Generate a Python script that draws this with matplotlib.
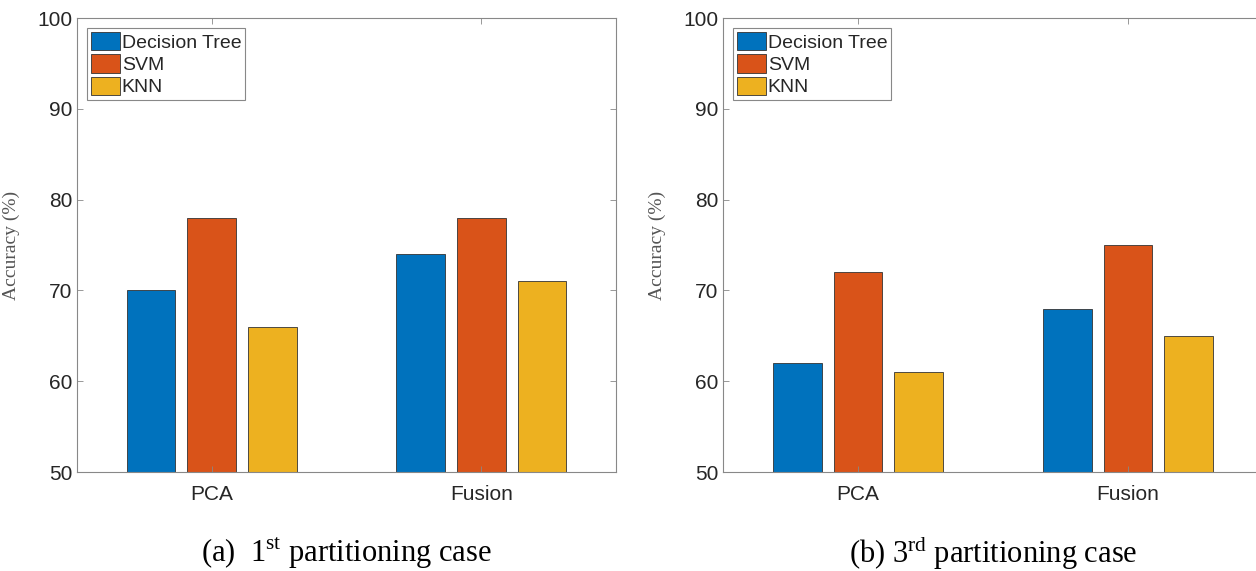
import numpy as np
import matplotlib
matplotlib.use("Agg")
import matplotlib.pyplot as plt
from matplotlib.patches import Patch

# data
groups = ["PCA", "Fusion"]
methods = ["Decision Tree", "SVM", "KNN"]
acc_case1 = [[70, 74], [78, 78], [66, 71]]   # per method, per group
acc_case3 = [[62, 68], [72, 75], [61, 65]]
captions = [r"(a)  1$^{\mathrm{st}}$ partitioning case",
            r"(b) 3$^{\mathrm{rd}}$ partitioning case"]
colors = ["#0072BD", "#D95319", "#EDB120"]

plt.rcParams["font.family"] = "Liberation Sans"
plt.rcParams["mathtext.fontset"] = "custom"
plt.rcParams["mathtext.rm"] = "Liberation Serif"

W, H = 1256, 571
fig = plt.figure(figsize=(W / 100, H / 100), dpi=100)

axes_px = [(77, 539), (723, 540)]   # left edge, width in pixels
top, bottom = 18, 472
x = np.arange(1, len(groups) + 1)
offsets = [-0.225, 0.0, 0.225]
width = 0.18

for k, (data, cap) in enumerate(zip([acc_case1, acc_case3], captions)):
    left, w = axes_px[k]
    ax = fig.add_axes([left / W, (H - bottom) / H, w / W, (bottom - top) / H])
    for i, m in enumerate(methods):
        ax.bar(x + offsets[i], data[i], width, color=colors[i],
               edgecolor="#333333", linewidth=0.6, label=m)
    ax.set_xlim(0.5, 2.5)
    ax.set_ylim(50, 100)
    ax.set_xticks(x)
    ax.set_xticklabels(groups)
    ax.set_yticks(range(50, 101, 10))
    ax.tick_params(direction="in", length=4, width=0.6, color="#888888",
                   top=True, right=True, labelsize=15, labelcolor="#262626")
    ax.tick_params(axis="x", pad=9)
    for s in ax.spines.values():
        s.set_color("#888888")
        s.set_linewidth(0.8)
    ax.set_ylabel("Accuracy (%)", family="Liberation Serif", fontsize=14,
                  color="#555555")
    ax.yaxis.set_label_coords(-0.106, 0.5)
    handles = [Patch(facecolor=c, edgecolor="#333333", linewidth=0.6)
               for c in colors]
    leg = ax.legend(handles, methods, loc="upper left", fontsize=14,
                    fancybox=False, framealpha=1, edgecolor="#888888",
                    handlelength=1.5, handleheight=1.1, handletextpad=0.1,
                    labelspacing=0.13, borderpad=0.2, borderaxespad=0.5)
    leg.get_frame().set_linewidth(0.8)
    for t in leg.get_texts():
        t.set_color("#262626")
    fig.text((left + w / 2) / W, 1 - 553 / H, cap, family="Liberation Serif",
             fontsize=22, ha="center", va="center", color="black")

fig.savefig("out.png", dpi=100)
